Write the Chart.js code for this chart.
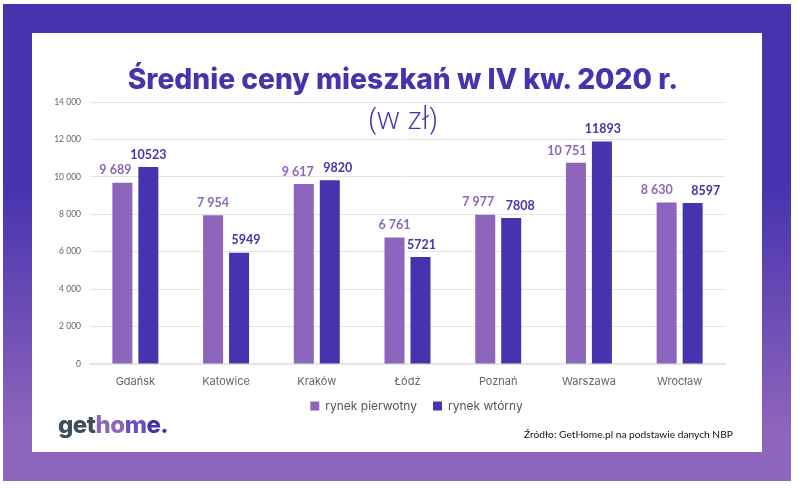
<!DOCTYPE html>
<html lang="pl">
<head>
<meta charset="utf-8">
<title>Średnie ceny mieszkań</title>
<script src="https://cdn.jsdelivr.net/npm/chart.js@4"></script>
<style>
    html, body { margin: 0; padding: 0; background: #fff; width: 800px; height: 488px; overflow: hidden; }
    #frame { position: absolute; left: 3px; top: 4px; width: 788px; height: 477px;
        background: linear-gradient(#4733ae 0%, #4733ae 38%, #8e65bc 90%); }
    #sheet { position: absolute; left: 32px; top: 33px; width: 730px; height: 419px; background: #fff; }
    #chart-box { position: absolute; left: 0; top: 0; width: 800px; height: 488px; }
    .text { position: absolute; white-space: nowrap; }
    #title { left: 0; width: 806px; top: 62px; text-align: center; font: 800 28.2px Inter, sans-serif; color: #4733ae; }
    #subtitle { left: 0; width: 806px; top: 96px; text-align: center; font: 300 31px "Open Sans", sans-serif; color: #4733ae; }
    #logo { left: 58px; top: 410px; font: 800 24px Inter, sans-serif; letter-spacing: -0.5px; color: #3d4f5c; }
    #source { left: 524px; top: 428px; font: 10.2px Lato, sans-serif; color: #111; }
</style>
</head>
<body>
<div id="frame"></div>
<div id="sheet"></div>
<div id="chart-box"><canvas id="price-chart" width="800" height="488"></canvas></div>
<div class="text" id="title">Średnie ceny mieszkań w IV kw. 2020 r.</div>
<div class="text" id="subtitle">(w zł)</div>
<div class="text" id="logo">get<span style="color:#8e65bc">ho</span><span style="color:#6a4db8">m</span><span style="color:#4733ae">e.</span></div>
<div class="text" id="source">Źródło: GetHome.pl na podstawie danych NBP</div>

<script>
/* Chart data */
let cities = ['Gdańsk', 'Katowice', 'Kraków', 'Łódź', 'Poznań', 'Warszawa', 'Wrocław']
let primaryMarket = [9689, 7954, 9617, 6761, 7977, 10751, 8630]
let secondaryMarket = [10523, 5949, 9820, 5721, 7808, 11893, 8597]
let primaryLabels = ['9 689', '7 954', '9 617', '6 761', '7 977', '10 751', '8 630']
let secondaryLabels = ['10523', '5949', '9820', '5721', '7808', '11893', '8597']

let purple = '#8e65bc'
let indigo = '#4733ae'

// the labels in the original were placed by hand, so they don't sit exactly over the bars
let primaryNudge = [-7, 0, -6, 0, -7, -9, -10]
let secondaryNudge = [0, 7, 8, 1, 9, 1, 13]

function drawLabels(ctx, meta, labels, nudge, color) {
    ctx.fillStyle = color
    ctx.font = 'bold 12.5px Lato, sans-serif'
    meta.data.forEach(function(bar, i) {
        ctx.fillText(labels[i], bar.x + nudge[i], bar.y - 6)
    })
}

let barLabels = {
    id: 'barLabels',
    afterDatasetsDraw: function(chart) {
        let ctx = chart.ctx
        ctx.save()
        ctx.textAlign = 'center'
        ctx.textBaseline = 'bottom'
        drawLabels(ctx, chart.getDatasetMeta(0), primaryLabels, primaryNudge, purple)
        drawLabels(ctx, chart.getDatasetMeta(1), secondaryLabels, secondaryNudge, indigo)
        ctx.restore()
    }
}

// legend is centred on the plot rather than on the whole canvas, and sits close to the axis
let moveLegend = {
    id: 'moveLegend',
    afterLayout: function(chart) {
        chart.legend.left += 38
        chart.legend.right += 38
        chart.legend.top -= 16
        chart.legend.bottom -= 16
    }
}

let ctx = document.querySelector('#price-chart').getContext('2d')

let priceChart = new Chart(ctx, {
    type: 'bar',
    data: {
        labels: cities,
        datasets: [
            { label: 'rynek pierwotny', data: primaryMarket, backgroundColor: purple, categoryPercentage: 0.573, barPercentage: 0.77 },
            { label: 'rynek wtórny', data: secondaryMarket, backgroundColor: indigo, categoryPercentage: 0.573, barPercentage: 0.77 }
        ]
    },
    options: {
        responsive: false,
        animation: false,
        layout: { padding: { left: 32, right: 75, top: 102, bottom: 50 } },
        scales: {
            x: {
                grid: { display: false, drawTicks: false },
                border: { color: '#e4e4e4', width: 2 },
                ticks: { color: '#666', font: { family: 'Inter', size: 11 }, padding: 11 },
                afterFit: function(scale) { scale.height = 36 }
            },
            y: {
                min: 0,
                max: 14000,
                grid: { color: '#e4e4e4', drawTicks: false },
                border: { display: false },
                ticks: {
                    stepSize: 2000,
                    color: '#666',
                    padding: 9,
                    font: { family: 'Lato', size: 8.5 },
                    callback: function(value) { return value >= 1000 ? (value / 1000) + ' 000' : value }
                },
                afterFit: function(scale) { scale.width = 58 }
            }
        },
        plugins: {
            title: { display: false },
            tooltip: { enabled: false },
            legend: {
                position: 'bottom',
                labels: {
                    boxWidth: 9,
                    boxHeight: 9,
                    color: '#555',
                    padding: 16,
                    font: { family: 'Inter', size: 12 }
                }
            }
        }
    },
    plugins: [barLabels, moveLegend]
})
</script>
</body>
</html>
